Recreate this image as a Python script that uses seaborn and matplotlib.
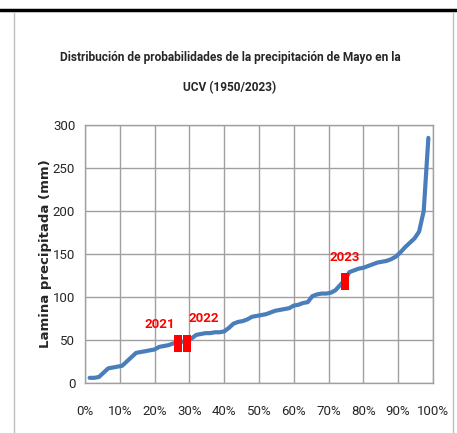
import matplotlib
matplotlib.use("Agg")
import matplotlib.pyplot as plt
import seaborn as sns
import pandas as pd
import numpy as np
from matplotlib.ticker import FuncFormatter
from matplotlib.lines import Line2D

precip = [6, 6, 7, 12, 17, 18, 19, 20, 25, 30, 35, 36, 37, 38, 39, 42, 43, 44, 46, 47,
          48, 49, 52, 56, 57, 58, 58, 59, 59, 60, 64, 69, 71, 72, 74, 77, 78, 79, 80, 82,
          84, 85, 86, 87, 90, 91, 93, 94, 101, 103, 104, 104, 105, 108, 114, 120, 129, 131, 133, 134,
          136, 138, 140, 141, 142, 144, 147, 152, 158, 163, 168, 176, 200, 285]
n = len(precip)
prob = [(k + 1) / (n + 1) for k in range(n)]

highlight_years = ["2021", "2022", "2023"]
highlight_prob = [0.267, 0.292, 0.747]
highlight_vals = [46.5, 46.5, 118.5]

df = pd.DataFrame({"p": prob, "v": precip})
hl = pd.DataFrame({"p": highlight_prob, "v": highlight_vals, "year": highlight_years})

sns.set_style("white")
narrow = ["Roboto", "DejaVu Sans"]

fig = plt.figure(figsize=(4.57, 4.33), dpi=100)
ax = fig.add_axes([85/457, 50/433, 348/457, 258/433])

rect = [(-0.47, -1), (0.47, -1), (0.47, 1), (-0.47, 1), (-0.47, -1)]
sns.lineplot(data=df, x="p", y="v", ax=ax, color="#4A7EBB", linewidth=3.0)
sns.scatterplot(data=hl, x="p", y="v", ax=ax, marker=rect, s=150, color="#FF0000",
                edgecolor="none", zorder=5)
offsets = [(-13, 13), (12, 17.5), (0, 17)]
for (_, r), off in zip(hl.iterrows(), offsets):
    ax.annotate(r["year"], (r["p"], r["v"]), xytext=off, textcoords="offset points",
                ha="center", va="center", color="#FF0000", fontsize=9.5, fontweight="bold",
                family=narrow)

ax.set_xlim(0, 1)
ax.set_ylim(0, 300)
ax.set_xticks(np.arange(0, 1.01, 0.1))
ax.set_yticks(np.arange(0, 301, 50))
ax.xaxis.set_major_formatter(FuncFormatter(lambda x, _: f"{x*100:.0f}%"))
ax.grid(True, color="#A0A0A0", linewidth=1)
for s in ax.spines.values():
    s.set_color("#A0A0A0")
    s.set_linewidth(1)
ax.tick_params(axis="both", length=0, labelsize=9.5)
ax.tick_params(axis="x", pad=16)
ax.tick_params(axis="y", pad=7)
for lab in ax.get_xticklabels() + ax.get_yticklabels():
    lab.set_family(narrow)
ax.set_xlabel("")
ax.set_ylabel("Lamina precipitada (mm)", fontsize=9.5, fontweight="bold",
              family=["DejaVu Sans"])
ax.yaxis.set_label_coords(-33/348, 0.5)

fig.text(230/457, 1 - 57/433, "Distribución de probabilidades de la precipitación de Mayo en la",
         ha="center", va="center", fontsize=8.6, fontweight="bold", family=narrow)
fig.text(230/457, 1 - 88/433, "UCV (1950/2023)",
         ha="center", va="center", fontsize=8.6, fontweight="bold", family=narrow)

# outer frame lines
fig.add_artist(Line2D([0, 1], [1 - 10/433, 1 - 10/433], color="black", linewidth=2.5,
                      transform=fig.transFigure))
fig.add_artist(Line2D([14/457, 14/457], [0, 1 - 12/433], color="#BFBFBF", linewidth=1,
                      transform=fig.transFigure))
fig.add_artist(Line2D([453/457, 453/457], [0, 1 - 12/433], color="#BFBFBF", linewidth=1,
                      transform=fig.transFigure))

fig.savefig("out.png", dpi=100)
